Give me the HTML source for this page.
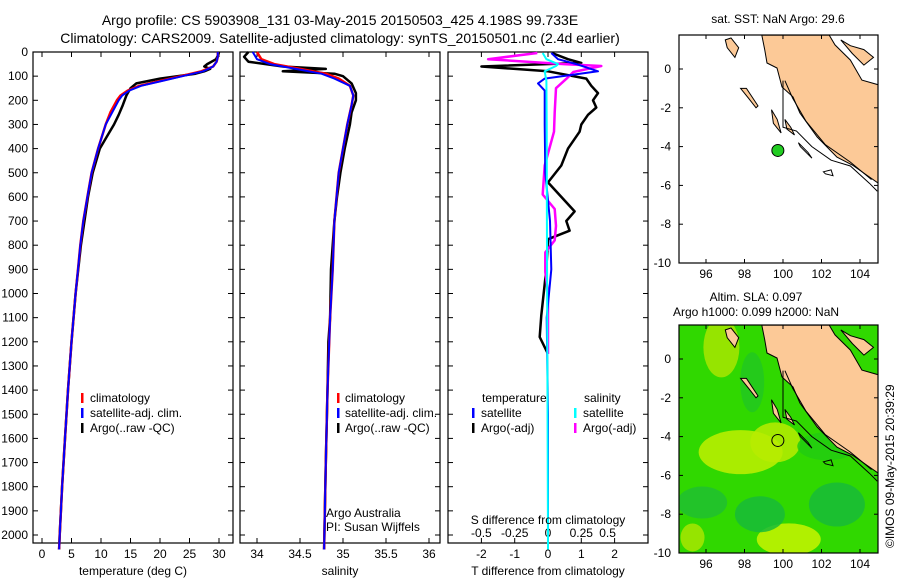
<!DOCTYPE html>
<html><head><meta charset="utf-8">
<style>
body{margin:0;background:#fff;}
svg{display:block;font-family:"Liberation Sans",Arial,sans-serif;}
</style></head>
<body>
<svg id="chart" width="900" height="580" viewBox="0 0 900 580" xmlns="http://www.w3.org/2000/svg">
<rect width="900" height="580" fill="#fff"/>
<text x="340" y="25" font-size="14" text-anchor="middle">Argo profile: CS 5903908_131 03-May-2015 20150503_425 4.198S 99.733E</text>
<text x="340" y="43" font-size="14" text-anchor="middle">Climatology: CARS2009. Satellite-adjusted climatology: synTS_20150501.nc (2.4d earlier)</text>
<g id="plots"></g>
</svg>
<script>
// ---- data ----
const tClimDepth=[0,20,40,60,80,100,120,140,160,180,200,250,300,400,500,600,700,800,900,1000,1200,1400,1600,1800,2000,2060];
const tClim=[29.8,29.8,29.6,29.0,27.0,23.5,20,16.5,14.5,13.3,12.7,11.6,10.8,9.5,8.4,7.7,7.0,6.5,6.1,5.7,5.0,4.4,3.9,3.4,3.0,2.9];
const tArgoDepth=[0,10,30,50,60,70,80,90,110,130,150,180,220,260,300,350,400,500,600,800,1000,1200,1400,1600,1800,2000,2060];
const tArgo=[30.0,29.9,29.5,28,27.5,28.5,27.5,26,20,16,15,14.3,13.7,13,12.2,11,9.8,8.6,7.8,6.6,5.7,5.0,4.4,3.9,3.4,3.0,2.9];
const sClimDepth=[0,30,50,70,90,110,140,180,220,300,400,500,700,900,1100,1400,1700,2060];
const sClim=[34.0,34.05,34.2,34.5,34.8,34.95,35.08,35.12,35.1,35.05,35.0,34.95,34.9,34.88,34.85,34.82,34.8,34.78];
const sArgoDepth=[0,20,40,60,70,80,90,100,130,170,200,250,300,400,500,600,700,800,900,1100,1200,1400,1700,2060];
const sArgo=[33.9,33.85,33.9,34.3,34.8,34.3,34.9,35.0,35.1,35.15,35.15,35.1,35.08,35.02,34.97,34.93,34.9,34.88,34.86,34.85,34.83,34.82,34.8,34.78];
const dTArgoDepth=[4,30,45,60,80,110,140,170,200,230,260,300,330,400,470,540,600,660,700,740,775,900,1090,1180,1250];
const dTArgo=[0.12,0.6,1.0,-2.0,0,1.15,1.3,1.5,1.35,1.45,1.2,1.0,0.95,0.6,0.4,0,0.4,0.8,0.55,0.65,0,-0.05,-0.2,-0.25,0];
const dSArgoDepth=[4,30,50,58,83,110,150,250,330,470,590,650,720,780,830,910,1000,1250];
const dSArgo=[-0.08,-0.45,0.12,0.4,0.19,0.14,0.06,0.05,0.045,-0.025,-0.04,0.05,0.06,0.05,-0.02,-0.02,0,0];
const dTSatDepth=[4,30,50,80,110,130,160,300,500,700,900,1100,1500,2060];
const dTSat=[0.1,0.3,0.85,1.5,-0.1,-0.3,-0.1,-0.1,-0.08,0.06,0.1,-0.04,0,0];
const dSSatDepth=[4,30,50,58,80,120,300,700,1200,2060];
const dSSat=[-0.04,-0.012,0.075,0.06,-0.025,-0.012,-0.01,-0.008,-0.005,0];
const depthTicks=[0,100,200,300,400,500,600,700,800,900,1000,1100,1200,1300,1400,1500,1600,1700,1800,1900,2000];
const tTicks=[0,5,10,15,20,25,30];
const sTicks=[34,34.5,35,35.5,36];
const sTickLabels=["34","34.5","35","35.5","36"];
const dTTicks=[-2,-1,0,1,2];
const dSTicks=[-0.5,-0.25,0,0.25,0.5];
const dSTickLabels=["-0.5","-0.25","0","0.25","0.5"];

const NS='http://www.w3.org/2000/svg';
const G=document.getElementById('plots');
function el(tag,attrs,parent,text){const e=document.createElementNS(NS,tag);for(const k in attrs)e.setAttribute(k,attrs[k]);if(text!==undefined)e.textContent=text;(parent||G).appendChild(e);return e;}
const Y0=52, PY=0.2415;
const yD=d=>Y0+d*PY;
const xT=v=>42+v*5.9;
const xS=v=>257+(v-34)*86;
const xDT=v=>548+v*33.3;
const xDS=v=>548+v*133.2;
function line(xs,ds,fx,color,w,name){
  const p=el('polyline',{points:xs.map((v,i)=>fx(v).toFixed(1)+','+yD(ds[i]).toFixed(1)).join(' '),fill:'none',stroke:color,'stroke-width':w,'stroke-linejoin':'round'});
  
  
}
function panel(x0,name){
  const r=el('rect',{x:x0,y:52,width:200,height:491,fill:'none',stroke:'#000','stroke-width':1.2});
  
  
  depthTicks.forEach(d=>{el('line',{x1:x0,x2:x0+5,y1:yD(d),y2:yD(d),stroke:'#000'});el('line',{x1:x0+200,x2:x0+195,y1:yD(d),y2:yD(d),stroke:'#000'});});
}
// panel 1
panel(33,'temperature-panel');
depthTicks.forEach(d=>{const t=el('text',{x:28,y:yD(d)+4,'font-size':12,'text-anchor':'end'},G,String(d));});
tTicks.forEach(v=>{el('line',{x1:xT(v),x2:xT(v),y1:543,y2:538,stroke:'#000'});el('line',{x1:xT(v),x2:xT(v),y1:52,y2:57,stroke:'#000'});const t=el('text',{x:xT(v),y:558,'font-size':12,'text-anchor':'middle'},G,String(v));});
line(tArgo,tArgoDepth,xT,'#000',2.5,'argo-temperature-line');
line(tClim,tClimDepth,xT,'#f00',2.5,'climatology-temperature-line');
line(tClim.map((v,i)=>v+(tClimDepth[i]<300&&tClimDepth[i]>60?0.3:0)),tClimDepth,xT,'#00f',2,'satellite-temperature-line');
// panel 2
panel(240,'salinity-panel');
sTicks.forEach((v,i)=>{el('line',{x1:xS(v),x2:xS(v),y1:543,y2:538,stroke:'#000'});el('line',{x1:xS(v),x2:xS(v),y1:52,y2:57,stroke:'#000'});const t=el('text',{x:xS(v),y:558,'font-size':12,'text-anchor':'middle'},G,sTickLabels[i]);});
line(sArgo,sArgoDepth,xS,'#000',2.5,'argo-salinity-line');
line(sClim,sClimDepth,xS,'#f00',2.5,'climatology-salinity-line');
line(sClim.map((v,i)=>v-(sClimDepth[i]<120?0.05:0)),sClimDepth,xS,'#00f',2,'satellite-salinity-line');
// panel 3
panel(448,'difference-panel');
dTTicks.forEach(v=>{el('line',{x1:xDT(v),x2:xDT(v),y1:52,y2:57,stroke:'#000'});el('line',{x1:xDT(v),x2:xDT(v),y1:543,y2:538,stroke:'#000'});const t=el('text',{x:xDT(v),y:558,'font-size':12,'text-anchor':'middle'},G,String(v));});
dSTicks.forEach((v,i)=>{const t=el('text',{x:xDS(v)+(i===4?-7:0),y:537,'font-size':12,'text-anchor':'middle'},G,dSTickLabels[i]);});
line(dTArgo,dTArgoDepth,xDT,'#000',2.5,'argo-t-diff-line');
line(dSArgo,dSArgoDepth,xDS,'#f0f',2.5,'argo-s-diff-line');
line(dTSat,dTSatDepth,xDT,'#00f',2,'satellite-t-diff-line');
line(dSSat,dSSatDepth,xDS,'#0ff',2,'satellite-s-diff-line');
</script>

<svg style="position:absolute;left:0;top:0" width="900" height="580">
<g font-family="Liberation Sans, Arial, sans-serif" font-size="12">
<text x="133" y="575" text-anchor="middle">temperature (deg C)</text>
<text x="340" y="575" text-anchor="middle">salinity</text>
<text x="548" y="575" text-anchor="middle">T difference from climatology</text>
<text x="548" y="524" text-anchor="middle">S difference from climatology</text>
<g>
<rect x="81" y="393" width="2.5" height="10" fill="#f00"/><text x="90" y="402">climatology</text>
<rect x="81" y="408" width="2.5" height="10" fill="#00f"/><text x="90" y="417">satellite-adj. clim.</text>
<rect x="81" y="423" width="2.5" height="10" fill="#000"/><text x="90" y="432">Argo(..raw -QC)</text>
</g>
<g>
<rect x="337" y="393" width="2.5" height="10" fill="#f00"/><text x="345" y="402">climatology</text>
<rect x="337" y="408" width="2.5" height="10" fill="#00f"/><text x="345" y="417">satellite-adj. clim.</text>
<rect x="337" y="423" width="2.5" height="10" fill="#000"/><text x="345" y="432">Argo(..raw -QC)</text>
</g>
<text x="326" y="517">Argo Australia</text>
<text x="326" y="531">PI: Susan Wijffels</text>
<g>
<text x="482" y="402">temperature</text><text x="584" y="402">salinity</text>
<rect x="472" y="408" width="2.5" height="10" fill="#00f"/><text x="481" y="417">satellite</text>
<rect x="472" y="423" width="2.5" height="10" fill="#000"/><text x="481" y="432">Argo(-adj)</text>
<rect x="574" y="408" width="2.5" height="10" fill="#0ff"/><text x="583" y="417">satellite</text>
<rect x="574" y="423" width="2.5" height="10" fill="#f0f"/><text x="583" y="432">Argo(-adj)</text>
</g>
<text x="778" y="23" text-anchor="middle">sat. SST: NaN  Argo: 29.6</text>
<text x="756" y="301" text-anchor="middle">Altim. SLA: 0.097</text>
<text x="756" y="316" text-anchor="middle">Argo h1000: 0.099 h2000: NaN</text>
<text transform="translate(894,548) rotate(-90)" font-size="12">©IMOS 09-May-2015 20:39:29</text>
</g>
<g id="maps"></g>
</svg>
<script>
const NS2='http://www.w3.org/2000/svg';
const M=document.getElementById('maps');
function mk(tag,attrs,parent,text){const e=document.createElementNS(NS2,tag);for(const k in attrs)e.setAttribute(k,attrs[k]);if(text!==undefined)e.textContent=text;(parent||M).appendChild(e);return e;}
const mapLonTicks=[96,98,100,102,104];
const mapLatTicks=[0,-2,-4,-6,-8,-10];
const argoLon=99.733, argoLat=-4.198;
const lonX=lon=>783+(lon-100)*19.25;
const latY=(lat,off)=>69+off-lat*19.4;
const landLon=[98.9,102.4,102.7,103.5,104.1,104.97,104.97,104.5,103.6,102.8,101.77,100.88,100.52,99.95,99.69,99.17,99.05];
const landLat=[1.75,1.75,1.24,0.46,-0.57,-0.82,-5.9,-5.57,-4.95,-4.54,-3.5,-2.27,-1.44,-0.93,0.05,0.31,1.0];
const isl1Lon=[97.0,97.3,97.7,97.5,97.1],isl1Lat=[1.5,1.6,1.1,0.6,1.1];
const isl2Lon=[97.8,98.1,98.7,98.6,98.2],isl2Lat=[-1.0,-1.0,-1.9,-2.0,-1.5];
function map(off,name,green){
  const g=mk('g',{});
  
  
  const x0=679,y0=35+off,w=199,h=228;
  mk('clipPath',{id:'c'+off},g);
  mk('rect',{x:x0,y:y0,width:w,height:h},g.lastChild);
  const inner=mk('g',{'clip-path':'url(#c'+off+')'},g);
  if(green){
    mk('rect',{x:x0,y:y0,width:w,height:h,fill:'#30d800'},inner);
    const blobs=[[96.8,0.6,18,30,'#a8e600'],[97.8,-4.8,42,22,'#c0f000'],[99.6,-4.3,25,20,'#b8ec00'],[100.3,-9.3,32,16,'#c8f400'],[95.3,-9.2,12,14,'#a8e600'],[95.8,-7.4,25,16,'#20c030'],[98.8,-8.0,25,18,'#18bb38'],[102.8,-7.5,28,22,'#18bb38'],[102.3,-4.5,30,14,'#22cc10'],[98.4,-1.2,12,30,'#22c820']];
    blobs.forEach(b=>{const e=mk('ellipse',{cx:lonX(b[0]),cy:latY(b[1],off),rx:b[2],ry:b[3],fill:b[4],opacity:0.85},inner);});
  }
  const poly=(lo,la,fill,sw)=>mk('polygon',{points:lo.map((v,i)=>lonX(v).toFixed(1)+','+latY(la[i],off).toFixed(1)).join(' '),fill:fill,stroke:'#000','stroke-width':sw},inner);
  const land=poly(landLon,landLat,'#fcc997',1);
  
  
  poly([103.0,103.5,104.2,104.7,104.2,103.6],[1.5,1.2,1.0,0.6,0.2,0.8],'#fcc997',1);
  poly(isl1Lon,isl1Lat,'#fcc997',1);poly(isl2Lon,isl2Lat,'#fcc997',1);
  poly([99.4,99.7,99.9,99.5],[-2.1,-2.6,-3.3,-2.8],'#fcc997',1);
  poly([100.1,100.4,100.6,100.2],[-2.6,-3.0,-3.4,-3.1],'#fcc997',1);
  poly([100.8,101.3,101.5,100.9],[-3.8,-4.3,-4.6,-4.0],'none',1);
  poly([102.1,102.5,102.6,102.2],[-5.3,-5.2,-5.5,-5.4],'none',1);
  mk('polyline',{points:[[100,-0.6],[100,-3],[100.7,-3.2],[101.5,-4.0],[102.5,-4.7],[103.5,-5.0],[104.5,-5.9],[104.9,-6.3]].map(p=>lonX(p[0])+','+latY(p[1],off)).join(' '),fill:'none',stroke:'#000','stroke-width':1},inner);
  mk('polyline',{points:[[100.1,-0.6],[100.5,-1.5],[101.2,-2.7],[102.2,-3.9],[103.5,-4.8],[104.6,-5.7]].map(p=>lonX(p[0])+','+latY(p[1],off)).join(' '),fill:'none',stroke:'#000','stroke-width':1},inner);
  mk('rect',{x:x0,y:y0,width:w,height:h,fill:'none',stroke:'#000','stroke-width':1.2},g);
  mapLonTicks.forEach(v=>{mk('line',{x1:lonX(v),x2:lonX(v),y1:y0+h,y2:y0+h-4,stroke:'#000'},g);mk('line',{x1:lonX(v),x2:lonX(v),y1:y0,y2:y0+4,stroke:'#000'},g);const t=mk('text',{x:lonX(v),y:y0+h+15,'font-size':12,'text-anchor':'middle','font-family':'Liberation Sans, Arial, sans-serif'},g,String(v));});
  mapLatTicks.forEach(v=>{mk('line',{x1:x0,x2:x0+4,y1:latY(v,off),y2:latY(v,off),stroke:'#000'},g);mk('line',{x1:x0+w,x2:x0+w-4,y1:latY(v,off),y2:latY(v,off),stroke:'#000'},g);const t=mk('text',{x:x0-8,y:latY(v,off)+4,'font-size':12,'text-anchor':'end','font-family':'Liberation Sans, Arial, sans-serif'},g,String(v));});
  const c=mk('circle',{cx:lonX(argoLon),cy:latY(argoLat,off),r:6,fill:green?'none':'#22cc22',stroke:'#000','stroke-width':1},g);
  
  
}
map(0,'sst-map',false);
map(290,'sla-map',true);
</script>
</body></html>
